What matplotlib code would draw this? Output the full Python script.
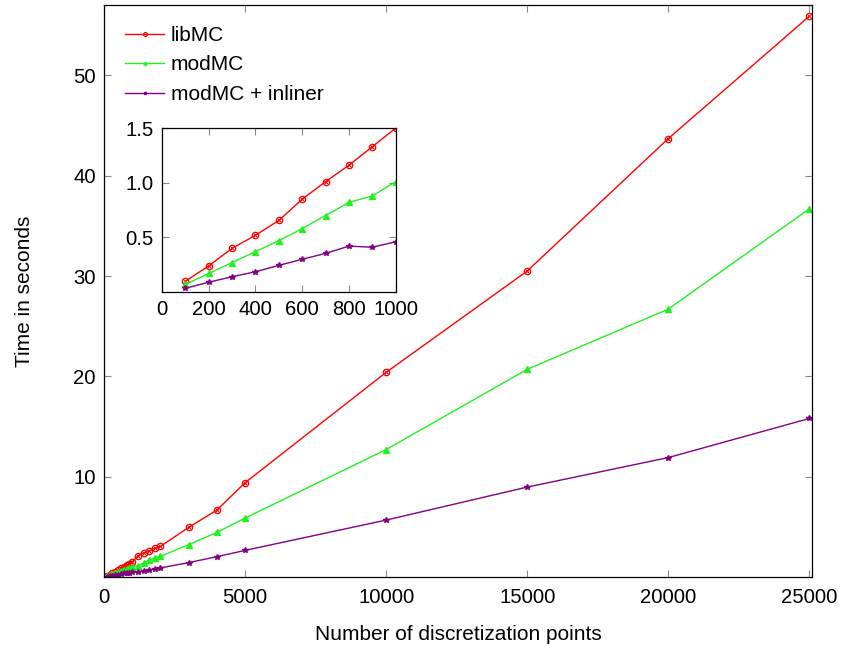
import matplotlib.pyplot as plt

plt.rcParams['font.family'] = ['Liberation Sans', 'DejaVu Sans']

# Punkte (Diskretisierung) und Laufzeiten in Sekunden
n_punkte = [100, 200, 300, 400, 500, 600, 700, 800, 900, 1000,
            1200, 1400, 1600, 1800, 2000, 3000, 4000, 5000,
            10000, 15000, 20000, 25000]
libmc = [0.098, 0.24, 0.40, 0.52, 0.655, 0.85, 1.01, 1.16, 1.33, 1.50,
         2.1, 2.4, 2.6, 2.85, 3.05, 4.94, 6.67, 9.4,
         20.4, 30.5, 43.7, 55.9]
modmc = [0.07, 0.17, 0.27, 0.37, 0.47, 0.58, 0.70, 0.82, 0.88, 1.01,
         1.13, 1.39, 1.66, 1.89, 2.06, 3.22, 4.44, 5.87,
         12.7, 20.7, 26.7, 36.7]
inliner = [0.034, 0.09, 0.14, 0.186, 0.244, 0.30, 0.354, 0.42, 0.41, 0.46,
           0.5, 0.6, 0.7, 0.8, 0.9, 1.43, 2.02, 2.65,
           5.67, 8.96, 11.9, 15.8]
n_inset = 10  # erste zehn Punkte im Ausschnitt

ROT = '#ff0000'
GRUEN = '#22ee22'
LILA = '#800080'
FS = 15


def zeichne(ax, xs, ys_list, msize):
    ys1, ys2, ys3 = ys_list
    ax.plot(xs, ys1, color=ROT, lw=1.0, marker='o', mfc='none',
            mec=ROT, ms=msize, mew=0.9, label='libMC')
    ax.plot(xs, ys1, ls='none', marker='x', color=ROT, ms=msize * 0.6, mew=0.7)
    ax.plot(xs, ys2, color=GRUEN, lw=1.0, marker='^', ms=msize * 0.8,
            mec=GRUEN, label='modMC')
    ax.plot(xs, ys3, color=LILA, lw=1.0, marker='*', ms=msize * 0.85,
            mec=LILA, label='modMC + inliner')


def stil(ax, size, pad=6):
    ax.tick_params(direction='in', top=True, right=True, length=5,
                   width=0.8, color='#888888', labelsize=size, pad=pad)
    for s in ax.spines.values():
        s.set_linewidth(0.9)


fig = plt.figure(figsize=(8.41, 6.49), dpi=100)
ax = fig.add_axes([0.1237, 0.111, 0.842, 0.881])
zeichne(ax, n_punkte, [libmc, modmc, inliner], 4.6)
ax.set_xlim(0, 25100)
ax.set_ylim(0, 57)
ax.set_xticks([0, 5000, 10000, 15000, 20000, 25000])
ax.set_yticks([10, 20, 30, 40, 50])
stil(ax, 14.6)
ax.tick_params(axis='x', pad=8)
ax.set_xlabel('Number of discretization points', fontsize=FS, labelpad=13)
ax.set_ylabel('Time in seconds', fontsize=FS, labelpad=28)
ax.legend(loc='upper left', frameon=False, fontsize=FS, handlelength=1.9,
          borderaxespad=0.6, labelspacing=0.5, handletextpad=0.3,
          markerscale=0.6)

inset = fig.add_axes([0.1926, 0.550, 0.278, 0.2527])
zeichne(inset, n_punkte[:n_inset],
        [libmc[:n_inset], modmc[:n_inset], inliner[:n_inset]], 4.6)
inset.set_xlim(0, 1000)
inset.set_ylim(0, 1.5)
inset.set_xticks([0, 200, 400, 600, 800, 1000])
inset.set_yticks([0.5, 1.0, 1.5])
inset.set_yticklabels(['0.5', '1.0', '1.5'])
stil(inset, 14.6)

fig.savefig('out.png', dpi=100)
